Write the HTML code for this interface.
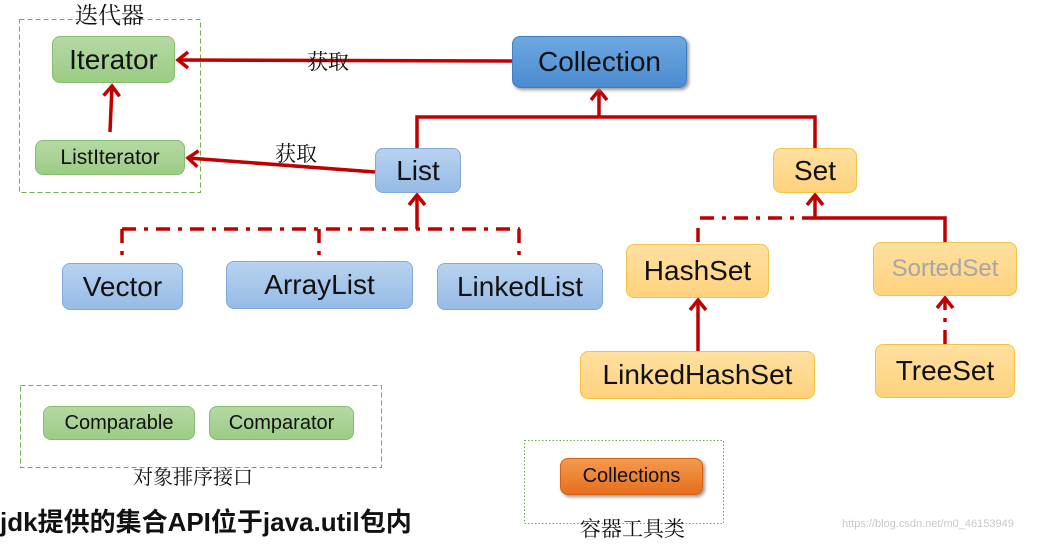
<!DOCTYPE html>
<html><head><meta charset="utf-8"><style>
body{margin:0;width:1037px;height:552px;background:#fff;position:relative;overflow:hidden;font-family:"Liberation Sans","Noto Sans CJK SC",sans-serif}
.b{position:absolute;box-sizing:border-box;border-radius:8px;display:flex;align-items:center;justify-content:center;color:#111}
.g{background:linear-gradient(#b5d9a4,#9ccc85);border:1px solid #86bd6c}
.bl{background:linear-gradient(#b8d2f0,#96bbe6);border:1px solid #82a9d9}
.y{background:linear-gradient(#ffe0a0,#ffd27d);border:1px solid #f5c242}
.t{position:absolute;font-family:"Liberation Serif","Noto Serif CJK SC",serif;color:#111;white-space:nowrap}
</style></head><body>
<svg width="1037" height="552" style="position:absolute;left:0;top:0">
<defs><marker id="a" markerWidth="20" markerHeight="20" refX="12" refY="10" orient="auto" markerUnits="userSpaceOnUse"><path d="M2,2 L12,10 L2,18" fill="none" stroke="#c00000" stroke-width="3.5"/></marker></defs>
<rect x="19.5" y="19.5" width="181" height="173" fill="none" stroke="#70ad47" stroke-dasharray="5,3"/>
<rect x="20.5" y="385.5" width="361" height="82" fill="none" stroke="#70ad47" stroke-dasharray="5,3"/>
<rect x="524.5" y="440.5" width="199" height="83" fill="none" stroke="#70ad47" stroke-dasharray="1.5,2"/>
<g stroke="#c00000" stroke-width="3.5" fill="none">
<line x1="512" y1="61" x2="178" y2="60" marker-end="url(#a)"/>
<line x1="375" y1="172" x2="188" y2="158" marker-end="url(#a)"/>
<line x1="110" y1="132" x2="112" y2="86" marker-end="url(#a)"/>
<polyline points="417,148 417,117 815,117 815,148"/>
<line x1="599" y1="117" x2="599" y2="90" marker-end="url(#a)"/>
<line x1="417" y1="229" x2="417" y2="195" marker-end="url(#a)"/>
<line x1="815" y1="218" x2="815" y2="195" marker-end="url(#a)"/>
<polyline points="815,218 945,218 945,242"/>
<line x1="698" y1="351" x2="698" y2="300" marker-end="url(#a)"/>
</g>
<g stroke="#c00000" stroke-width="3.5" fill="none" stroke-dasharray="14,8,4,8">
<line x1="122" y1="229" x2="520" y2="229"/>
<line x1="122" y1="229" x2="122" y2="263"/>
<line x1="319" y1="229" x2="319" y2="261"/>
<line x1="519" y1="229" x2="519" y2="263"/>
<line x1="700" y1="218" x2="815" y2="218"/>
<line x1="698" y1="228" x2="698" y2="244"/>
<line x1="945" y1="344" x2="945" y2="298" marker-end="url(#a)"/>
</g>
</svg>
<div class="t" style="left:75px;top:-3px;font-size:23px">迭代器</div>
<div class="t" style="left:307px;top:46px;font-size:21px">获取</div>
<div class="t" style="left:275px;top:138px;font-size:21px">获取</div>
<div class="b g" style="left:52px;top:36px;width:123px;height:47px;font-size:28px">Iterator</div>
<div class="b g" style="left:35px;top:140px;width:150px;height:35px;font-size:21px">ListIterator</div>
<div class="b" style="left:512px;top:36px;width:175px;height:52px;font-size:28px;background:linear-gradient(#6fa8e0,#4a8bd0);border:1px solid #3f7fc4;box-shadow:2px 2px 3px #999">Collection</div>
<div class="b bl" style="left:375px;top:148px;width:86px;height:45px;font-size:28px">List</div>
<div class="b y" style="left:773px;top:148px;width:84px;height:45px;font-size:28px">Set</div>
<div class="b bl" style="left:62px;top:263px;width:121px;height:47px;font-size:28px">Vector</div>
<div class="b bl" style="left:226px;top:261px;width:187px;height:48px;font-size:28px">ArrayList</div>
<div class="b bl" style="left:437px;top:263px;width:166px;height:47px;font-size:28px">LinkedList</div>
<div class="b y" style="left:626px;top:244px;width:143px;height:54px;font-size:28px">HashSet</div>
<div class="b y" style="left:873px;top:242px;width:144px;height:54px;font-size:24px;color:#a6a6a6">SortedSet</div>
<div class="b y" style="left:580px;top:351px;width:235px;height:48px;font-size:28px">LinkedHashSet</div>
<div class="b y" style="left:875px;top:344px;width:140px;height:54px;font-size:28px">TreeSet</div>
<div class="b g" style="left:43px;top:406px;width:152px;height:34px;font-size:20px">Comparable</div>
<div class="b g" style="left:209px;top:406px;width:145px;height:34px;font-size:20px">Comparator</div>
<div class="t" style="left:133px;top:461px;font-size:20px">对象排序接口</div>
<div class="b" style="left:560px;top:458px;width:143px;height:37px;font-size:20px;background:linear-gradient(#f39a4f,#e66f1e);border:1px solid #d46012;box-shadow:2px 2px 3px #999">Collections</div>
<div class="t" style="left:580px;top:513px;font-size:21px">容器工具类</div>
<div style="position:absolute;left:0;top:502px;font-size:26px;font-weight:bold;color:#111;white-space:nowrap">jdk提供的集合API位于java.util包内</div>
<div style="position:absolute;left:842px;top:518px;font-size:11px;color:#c8c8c8;white-space:nowrap">https://blog.csdn.net/m0_46153949</div>
</body></html>
